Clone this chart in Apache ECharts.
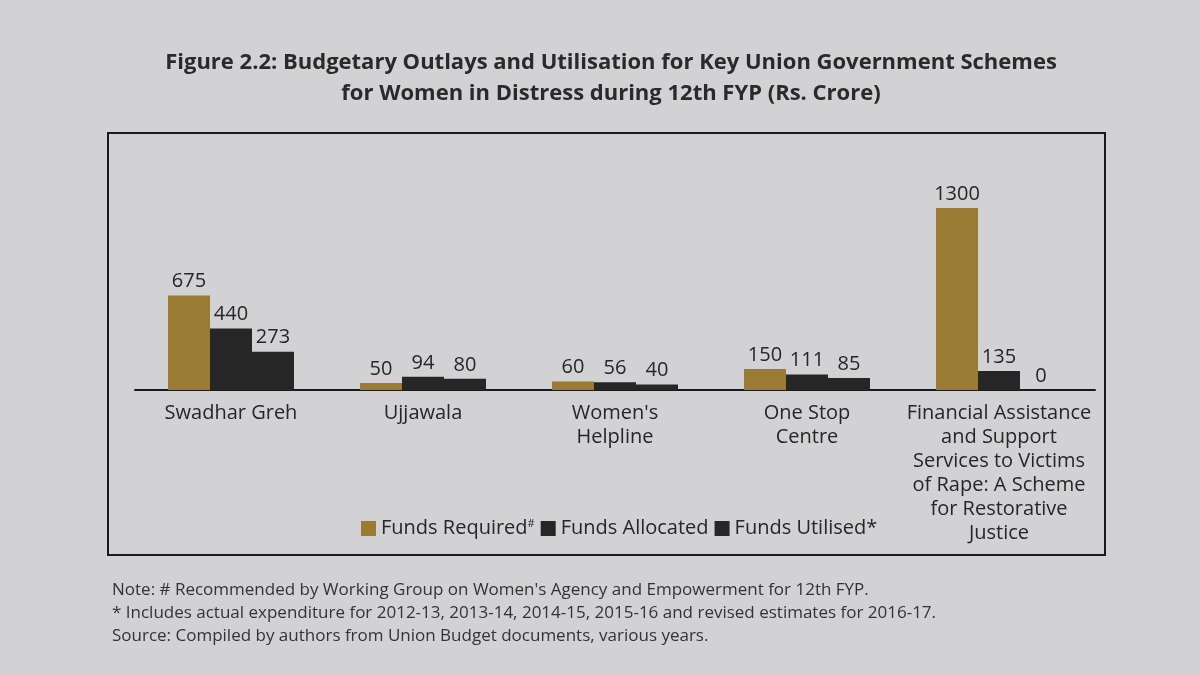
<!DOCTYPE html>
<html>
<head>
<meta charset="utf-8">
<script src="https://cdn.jsdelivr.net/npm/echarts@6/dist/echarts.min.js"></script>
<style>
  html, body { margin: 0; padding: 0; background: #d2d2d4; }
  #chart { width: 1200px; height: 675px; }
</style>
</head>
<body>
<div id="chart"></div>
<script>
var schemes = ['Swadhar Greh', 'Ujjawala', "Women's\nHelpline", 'One Stop\nCentre',
  'Financial Assistance\nand Support\nServices to Victims\nof Rape: A Scheme\nfor Restorative\nJustice']
var fundsRequired = [675, 50, 60, 150, 1300]
var fundsAllocated = [440, 94, 56, 111, 135]
var fundsUtilised = [273, 80, 40, 85, 0]

var chart = echarts.init(document.getElementById('chart'))
var font = '"Open Sans", "Noto Sans", sans-serif'

function barSeries(name, data, color) {
  return {
    name: name,
    type: 'bar',
    data: data,
    barWidth: 42,
    barGap: '0%',
    itemStyle: { color: color },
    label: {
      show: true,
      position: 'top',
      distance: 4,
      color: '#262626',
      fontSize: 20,
      fontFamily: font
    }
  }
}

var option = {
  backgroundColor: '#d2d2d4',
  animation: false,
  title: {
    text: 'Figure 2.2: Budgetary Outlays and Utilisation for Key Union Government Schemes\nfor Women in Distress during 12th FYP (Rs. Crore)',
    left: 606,
    top: 42,
    textAlign: 'center',
    textStyle: {
      fontFamily: font,
      fontWeight: 'bold',
      fontSize: 22,
      lineHeight: 31,
      color: '#2a2a2a'
    }
  },
  legend: {
    left: 356,
    top: 513,
    itemWidth: 15,
    itemHeight: 15,
    itemGap: 6,
    icon: 'rect',
    data: ['Funds Required', 'Funds Allocated', 'Funds Utilised*'],
    formatter: function (name) {
      if (name === 'Funds Required') return '{t|Funds Required}{s|#}'
      return '{t|' + name + '}'
    },
    textStyle: {
      rich: {
        t: { fontSize: 20, fontFamily: font, color: '#262626' },
        s: { fontSize: 11, fontFamily: font, color: '#262626', verticalAlign: 'top', padding: [0, 0, 10, 0] }
      }
    }
  },
  grid: {
    left: 135,
    right: 105,
    top: 138,
    bottom: 285
  },
  xAxis: {
    type: 'category',
    data: schemes,
    axisTick: { show: false },
    axisLine: { lineStyle: { color: '#1a1a1a', width: 2 } },
    axisLabel: {
      color: '#262626',
      fontSize: 20,
      fontFamily: font,
      lineHeight: 24,
      margin: 11,
      interval: 0
    }
  },
  yAxis: {
    type: 'value',
    min: 0,
    max: 1800,
    show: false,
    splitLine: { show: false }
  },
  series: [
    barSeries('Funds Required', fundsRequired, '#9a7b33'),
    barSeries('Funds Allocated', fundsAllocated, '#262626'),
    barSeries('Funds Utilised*', fundsUtilised, '#262626')
  ],
  graphic: [
    {
      type: 'rect',
      shape: { x: 108, y: 133, width: 997, height: 422 },
      style: { fill: 'none', stroke: '#1a1a1a', lineWidth: 2 },
      z: -1
    },
    {
      type: 'text',
      left: 112,
      top: 579,
      style: {
        text: "Note: # Recommended by Working Group on Women's Agency and Empowerment for 12th FYP.\n* Includes actual expenditure for 2012-13, 2013-14, 2014-15, 2015-16 and revised estimates for 2016-17.\nSource: Compiled by authors from Union Budget documents, various years.",
        fontSize: 17,
        lineHeight: 23,
        fontFamily: font,
        fill: '#333333'
      }
    }
  ]
}

chart.setOption(option)
</script>
</body>
</html>
